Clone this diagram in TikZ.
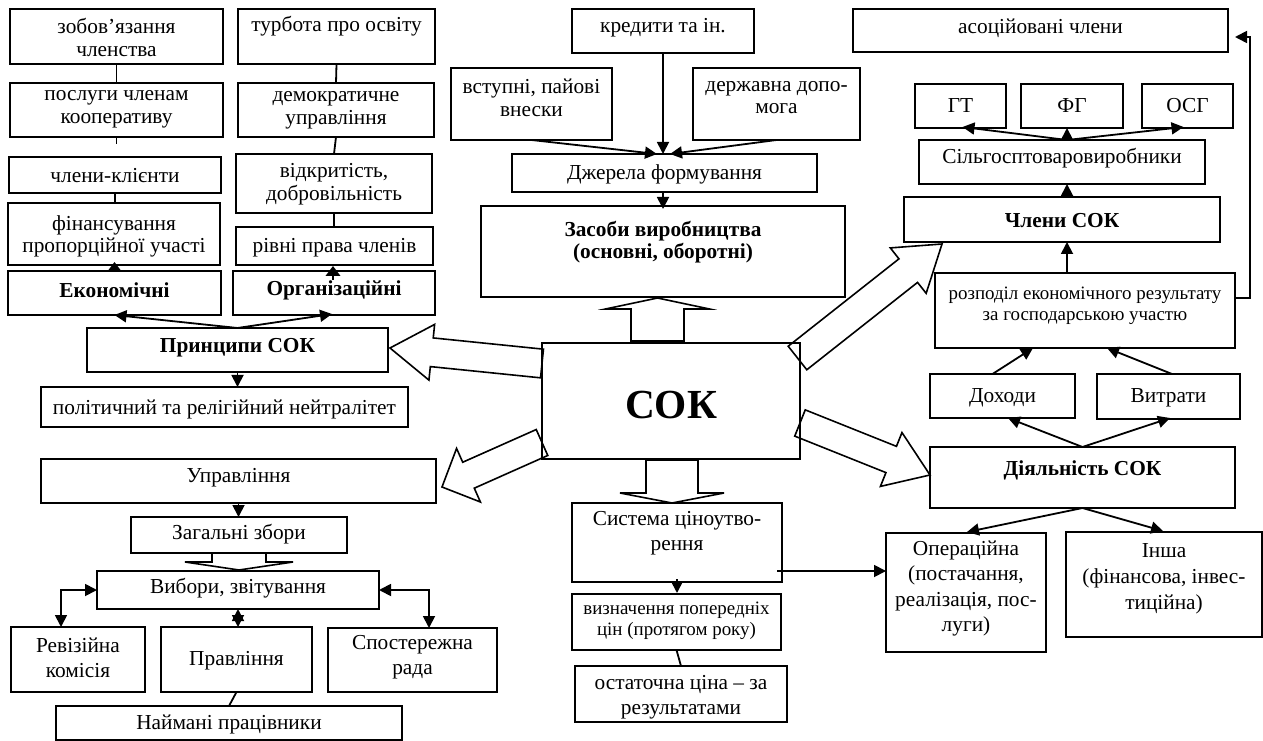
\documentclass[tikz,border=0pt]{standalone}
\usepackage{fontspec}
\setmainfont{Liberation Serif}
\usetikzlibrary{arrows.meta,calc}
\newcommand\bx[8][]{%
  \node[box, minimum width={(#5-#3)*0.75pt}, minimum height={(#6-#4)*0.75pt}] (#2) at ({(#3+#5)/2},{(#4+#6)/2}) {};
  \node[txt,#1] (#2t) at ({(#3+#5)/2},#7) {#8};}
\newcommand\fat[5]{%
  \coordinate (fh) at ($(#2)!#5!(#1)$);
  \draw[fatst] ($(#1)!#3!90:(#2)$) -- ($(fh)!#3!-90:(#1)$) -- ($(fh)!#4!-90:(#1)$) -- (#2)
     -- ($(fh)!#4!90:(#1)$) -- ($(fh)!#3!90:(#1)$) -- ($(#1)!#3!-90:(#2)$) -- cycle;}
\tikzset{
  box/.style={draw, line width=1.35pt, inner sep=0pt, outer sep=0pt},
  txt/.style={font=\fontsize{16}{17}\selectfont, align=center, inner sep=0pt, yshift=-2.25pt},
  loose/.style={font=\fontsize{16}{19}\selectfont},
  small/.style={font=\fontsize{14.2}{16}\selectfont},
  bf/.style={font=\fontsize{16}{17}\selectfont\bfseries},
  ln/.style={line width=1.35pt},
  arr/.style={ln, -{Triangle[length=9pt,width=9pt]}},
  sarr/.style={ln, -{Triangle[length=7.5pt,width=11pt]}},
  darr/.style={ln, {Triangle[length=9pt,width=9pt]}-{Triangle[length=9pt,width=9pt]}},
  fatst/.style={line width=1.2pt, line join=miter},
}
\begin{document}
\begin{tikzpicture}[x=0.75pt,y=-0.75pt]
\useasboundingbox (0,0) rectangle (1263,741);
% left column
\bx{zob}{10}{9}{223}{64}{34.5}{зобов’язання\\членства}
\bx{turb}{238}{9}{435}{64}{23}{турбота про освіту}
\bx{pos}{10}{83}{223}{137}{106.5}{послуги членам\\кооперативу}
\bx{demo}{238}{83}{434}{137}{107.5}{демократичне\\управління}
\bx{chlk}{9}{157}{221}{193}{173}{члени-клієнти}
\bx{vidk}{236}{154}{432}{213}{181}{відкритість,\\добровільність}
\bx{fin}{8}{203}{220}{265}{233.5}{фінансування\\пропорційної участі}
\bx{rivni}{236}{227}{433}{265}{245}{рівні права членів}
\bx[bf]{ekon}{8}{271}{221}{315}{287}{Економічні}
\bx[bf]{orh}{233}{271}{435}{315}{287}{Організаційні}
\bx[bf]{pryn}{87}{328}{388}{372}{345}{Принципи СОК}
\bx{polit}{41}{387}{408}{427}{406.5}{політичний та релігійний нейтралітет}
% top middle
\bx{kred}{572}{9}{754}{53}{25}{кредити та ін.}
\bx{vstup}{451}{68}{612}{140}{94.5}{вступні, пайові\\внески}
\bx{derzh}{693}{68}{860}{140}{94.5}{державна допо-\\мога}
\bx{dzher}{512}{154}{817}{192}{171}{Джерела формування}
\bx[bf]{zasoby}{481}{206}{845}{297}{239}{Засоби виробництва\\(основні, оборотні)}
% centre
\bx[font=\fontsize{31}{34}\selectfont\bfseries, yshift=0pt]{sok}{542}{343}{800}{459}{402}{СОК}
% bottom left
\bx{upr}{41}{459}{436}{503}{475}{Управління}
\bx{zah}{131}{517}{347}{553}{531.5}{Загальні збори}
\bx{vyb}{97}{571}{379}{609}{585}{Вибори, звітування}
\bx[loose]{rev}{11}{627}{145}{692}{654.5}{Ревізійна\\комісія}
\bx{prav}{161}{627}{312}{692}{658}{Правління}
\bx[loose]{spos}{328}{628}{497}{692}{654.5}{Спостережна\\рада}
\bx{naim}{56}{706}{402}{740}{721.5}{Наймані працівники}
% bottom middle
\bx[loose]{syst}{572}{503}{782}{582}{530.5}{Система ціноутво-\\рення}
\bx[small]{vyzn}{572}{594}{781}{650}{618}{визначення попередніх\\цін (протягом року)}
\bx[loose]{ostat}{575}{666}{787}{722}{694}{остаточна ціна – за\\результатами}
% right
\bx{asoc}{853}{9}{1228}{52}{25}{асоційовані члени}
\bx{gt}{915}{84}{1006}{128}{103}{ГТ}
\bx{fg}{1021}{84}{1123}{128}{103}{ФГ}
\bx{osg}{1142}{84}{1233}{128}{103}{ОСГ}
\bx{silh}{919}{140}{1205}{184}{155}{Сільгосптоваровиробники}
\bx[bf]{chl}{904}{197}{1220}{242}{218}{Члени СОК}
\bx[small]{rozp}{935}{273}{1235}{348}{302.5}{розподіл економічного результату\\за господарською участю}
\bx{dokh}{930}{374}{1075}{418}{395}{Доходи}
\bx{vytr}{1097}{374}{1240}{419}{395}{Витрати}
\bx[bf]{diyal}{930}{447}{1235}{508}{467}{Діяльність СОК}
\bx[font=\fontsize{16}{19}\selectfont]{oper}{886}{533}{1046}{652}{585.5}{Операційна\\(постачання,\\реалізація, пос-\\луги)}
\bx[font=\fontsize{16}{19.5}\selectfont]{insha}{1066}{532}{1262}{637}{576}{Інша\\(фінансова, інвес-\\тиційна)}
% fat arrows
\coordinate (f1s) at ($(sok.west)+(0,-37.5)$);
\coordinate (f1e) at ($(pryn.east)+(2,-2)$);
\fat{f1s}{f1e}{10.8pt}{21pt}{31.5pt}
\coordinate (f2s) at ($(sok.west)+(0,41.5)$);
\coordinate (f2e) at ($(upr.east)+(6,6)$);
\fat{f2s}{f2e}{10.65pt}{22pt}{21.75pt}
\coordinate (f3s) at ($(sok.north east)+(-2.5,15)$);
\coordinate (f3e) at ($(chl.south west)+(38,2)$);
\fat{f3s}{f3e}{11.25pt}{21.7pt}{32.25pt}
\coordinate (f4s) at ($(sok.east)+(0,22)$);
\coordinate (f4e) at ($(diyal.west)+(0,-2.5)$);
\fat{f4s}{f4e}{10.6pt}{21.75pt}{31.35pt}
\coordinate (f5s) at ($(sok.north)+(-13.5,-2)$);
\coordinate (f5e) at ($(zasoby.south)+(-5.5,1)$);
\fat{f5s}{f5e}{19.9pt}{39pt}{8.25pt}
\coordinate (f6s) at ($(sok.south)+(1,1)$);
\coordinate (f6e) at ($(syst.north)+(-5,0)$);
\fat{f6s}{f6e}{19.5pt}{39pt}{7.5pt}
\coordinate (f7s) at (zah.south);
\coordinate (f7e) at ($(zah.south |- vyb.north)+(0,-1)$);
\fat{f7s}{f7e}{20.25pt}{40.5pt}{6pt}
% connectors left
\draw[ln] (zob.south) -- (pos.north);
\draw[ln] (pos.south) -- ++(0,7);
\draw[ln] (chlk.south) -- (chlk.south |- fin.north);
\draw[ln] (turb.south) -- (demo.north);
\draw[ln] (demo.south) -- (vidk.north);
\draw[ln] (vidk.south) -- (vidk.south |- rivni.north);
\draw[sarr] (ekon.north) -- ($(ekon.north |- fin.south)+(0,-3)$);
\draw[sarr] ($(orh.north)+(-1,9)$) -- ($(orh.north |- rivni.south)+(-1,1)$);
\draw[arr] (pryn.north) -- (ekon.south);
\draw[arr] (pryn.north) -- ($(orh.south)+(-2,-1)$);
\draw[arr] (pryn.south) -- (pryn.south |- polit.north);
% connectors top middle
\draw[arr] (kred.south) -- (kred.south |- dzher.north);
\draw[arr] (vstup.south) -- ($(dzher.north)+(-7.5,0)$);
\draw[arr] (derzh.south) -- ($(dzher.north)+(5.5,0)$);
\draw[arr] (kred.south |- dzher.south) -- ($(kred.south |- zasoby.north)+(0,3)$);
% connectors right
\coordinate (sn) at ($(silh.north)+(5,0)$);
\draw[arr] (sn) -- ($(gt.south)+(2,-1)$);
\draw[arr] (sn) -- (sn |- fg.south);
\draw[arr] (sn) -- ($(osg.south)+(-4,-1)$);
\draw[arr] (sn |- chl.north) -- (sn |- silh.south);
\draw[arr] (sn |- rozp.north) -- (sn |- chl.south);
\draw[arr] ($(rozp.east)+(0,-12.5)$) -- ($(rozp.east)+(15,-12.5)$) |- ($(asoc.east)+(7,6.5)$);
\draw[arr] ($(dokh.north)+(-10,0)$) -- ($(rozp.south)+(-52,0)$);
\draw[arr] ($(vytr.north)+(3.5,0)$) -- ($(rozp.south)+(22,0)$);
\draw[arr] (diyal.north) -- ($(dokh.south)+(5.5,0)$);
\draw[arr] (diyal.north) -- ($(vytr.south)+(1.5,-1)$);
\draw[arr] (diyal.south) -- ($(oper.north)+(1,-1)$);
\draw[arr] (diyal.south) -- ($(insha.north)+(-1,-1)$);
% connectors bottom middle
\coordinate (so) at ($(syst.east)+(-5,28.5)$);
\draw[arr] (so) -- (so -| oper.west);
\draw[arr] ($(syst.south)+(0,-3)$) -- ($(syst.south |- vyzn.north)+(0,-1)$);
\draw[ln] (vyzn.south) -- (ostat.north);
% connectors bottom left
\draw[arr] (upr.south) -- (upr.south |- zah.north);
\draw[darr] (vyb.west) -| ($(rev.north)+(-17,0)$);
\draw[darr] (vyb.east) -| ($(spos.north)+(16.5,0)$);
\draw[darr] (vyb.south) -- (vyb.south |- prav.north);
\draw[ln] (prav.south) -- (naim.north);
\end{tikzpicture}
\end{document}
